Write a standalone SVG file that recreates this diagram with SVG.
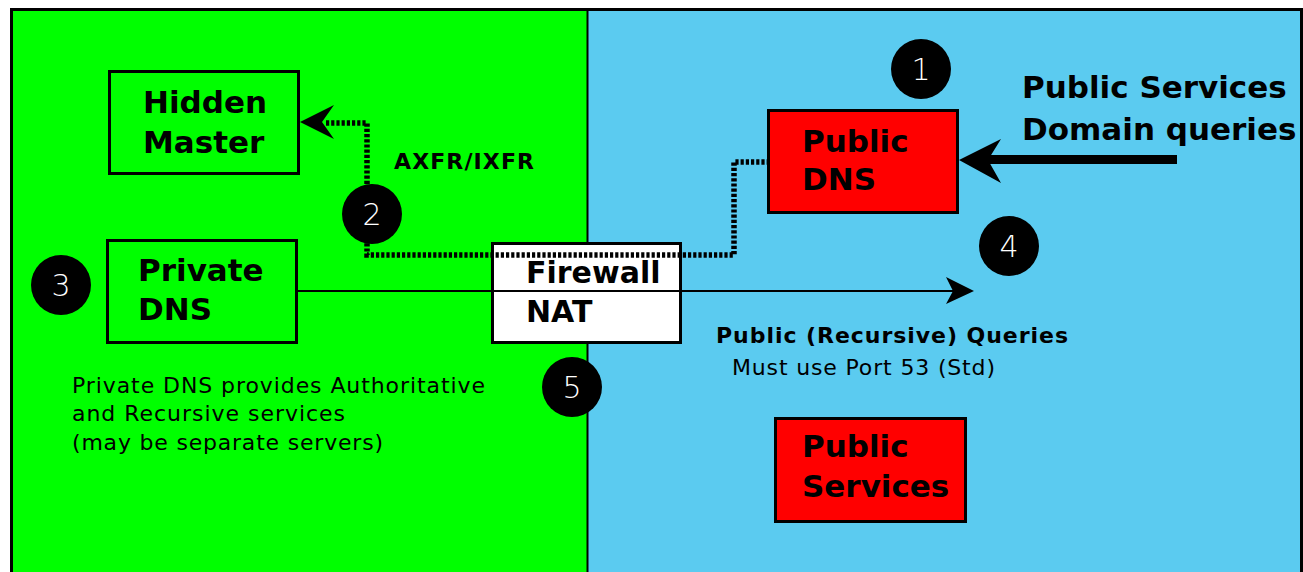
<svg xmlns="http://www.w3.org/2000/svg" width="1303" height="572" viewBox="0 0 1303 572">
<style>
.lbl{font-family:"DejaVu Sans","Liberation Sans",sans-serif;font-weight:bold;font-size:31px;fill:#000}
.fw{font-family:"DejaVu Sans","Liberation Sans",sans-serif;font-weight:bold;font-size:30px;fill:#000}
.note{font-family:"DejaVu Sans","Liberation Sans",sans-serif;font-size:22px;fill:#000}
.noteb{font-family:"DejaVu Sans","Liberation Sans",sans-serif;font-weight:bold;font-size:22px;fill:#000}
.box{stroke:#000;stroke-width:3}
.badge{fill:#000}
.num{font-family:"DejaVu Sans","Liberation Sans",sans-serif;font-weight:200;font-size:30px;fill:#fff;text-anchor:middle}
.dot{fill:none;stroke:#000;stroke-width:5.5;stroke-dasharray:3.2 2}
</style>
<rect width="1303" height="572" fill="#fff"/>
<g id="zones">
<rect x="11.5" y="9.5" width="576" height="570" fill="#00ff00"/>
<rect x="587.5" y="9.5" width="715" height="570" fill="#5bcbf0"/>
<line x1="587.5" y1="9" x2="587.5" y2="572" stroke="#000" stroke-width="2"/>
<rect x="11.5" y="9.5" width="1290" height="575" fill="none" stroke="#000" stroke-width="3"/>
</g>
<g id="hidden-master">
<rect class="box" x="109.5" y="71.5" width="189" height="102" fill="#00ff00"/>
<text class="lbl" x="143" y="113">Hidden</text>
<text class="lbl" x="143" y="153">Master</text>
</g>
<g id="private-dns">
<rect class="box" x="107.5" y="240.5" width="189" height="102" fill="#00ff00"/>
<text class="lbl" x="138" y="281">Private</text>
<text class="lbl" x="138" y="320">DNS</text>
</g>
<g id="public-dns">
<rect class="box" x="768.5" y="110.5" width="189" height="102" fill="#ff0000"/>
<text class="lbl" x="802" y="152">Public</text>
<text class="lbl" x="802" y="190">DNS</text>
</g>
<g id="public-services">
<rect class="box" x="775.5" y="418.5" width="190" height="103" fill="#ff0000"/>
<text class="lbl" x="802" y="457">Public</text>
<text class="lbl" x="802" y="497">Services</text>
</g>
<g id="firewall-nat">
<rect class="box" x="492.5" y="243.5" width="188" height="99" fill="#fff"/>
<line x1="492" y1="291" x2="681" y2="291" stroke="#000" stroke-width="2"/>
<text class="fw" x="526" y="283">Firewall</text>
<text class="fw" x="526" y="322">NAT</text>
</g>
<g id="connectors">
<path class="dot" d="M326,123 H367 V255 H734 V162 H768"/>
<path d="M300,122 L334,105 L322,122 L334,139 Z" fill="#000"/>
<line x1="297" y1="291" x2="955" y2="291" stroke="#000" stroke-width="2"/>
<path d="M974,291 L946,277 L953,291 L946,304 Z" fill="#000"/>
<line x1="1177" y1="159.5" x2="985" y2="159.5" stroke="#000" stroke-width="9"/>
<path d="M959,160 L1001,139 L988,160 L1001,183 Z" fill="#000"/>
</g>
<g id="badge-1"><circle class="badge" cx="921" cy="69" r="30"/><text class="num" x="921" y="80">1</text></g>
<g id="badge-2"><circle class="badge" cx="372" cy="214" r="30"/><text class="num" x="372" y="225">2</text></g>
<g id="badge-3"><circle class="badge" cx="61" cy="285" r="30"/><text class="num" x="61" y="296">3</text></g>
<g id="badge-4"><circle class="badge" cx="1009" cy="246" r="30"/><text class="num" x="1009" y="257">4</text></g>
<g id="badge-5"><circle class="badge" cx="572" cy="387" r="30"/><text class="num" x="572" y="398">5</text></g>
<g id="labels">
<text class="noteb" x="394" y="169" textLength="140" lengthAdjust="spacing">AXFR/IXFR</text>
<text class="lbl" x="1022" y="98">Public Services</text>
<text class="lbl" x="1022" y="140">Domain queries</text>
<text class="noteb" x="716" y="343" textLength="352" lengthAdjust="spacing">Public (Recursive) Queries</text>
<text class="note" x="732" y="375" font-size="21" textLength="263" lengthAdjust="spacing">Must use Port 53 (Std)</text>
<text class="note" x="72" y="393" textLength="413" lengthAdjust="spacing">Private DNS provides Authoritative</text>
<text class="note" x="72" y="421" textLength="273" lengthAdjust="spacing">and Recursive services</text>
<text class="note" x="72" y="450" textLength="311" lengthAdjust="spacing">(may be separate servers)</text>
</g>
</svg>
